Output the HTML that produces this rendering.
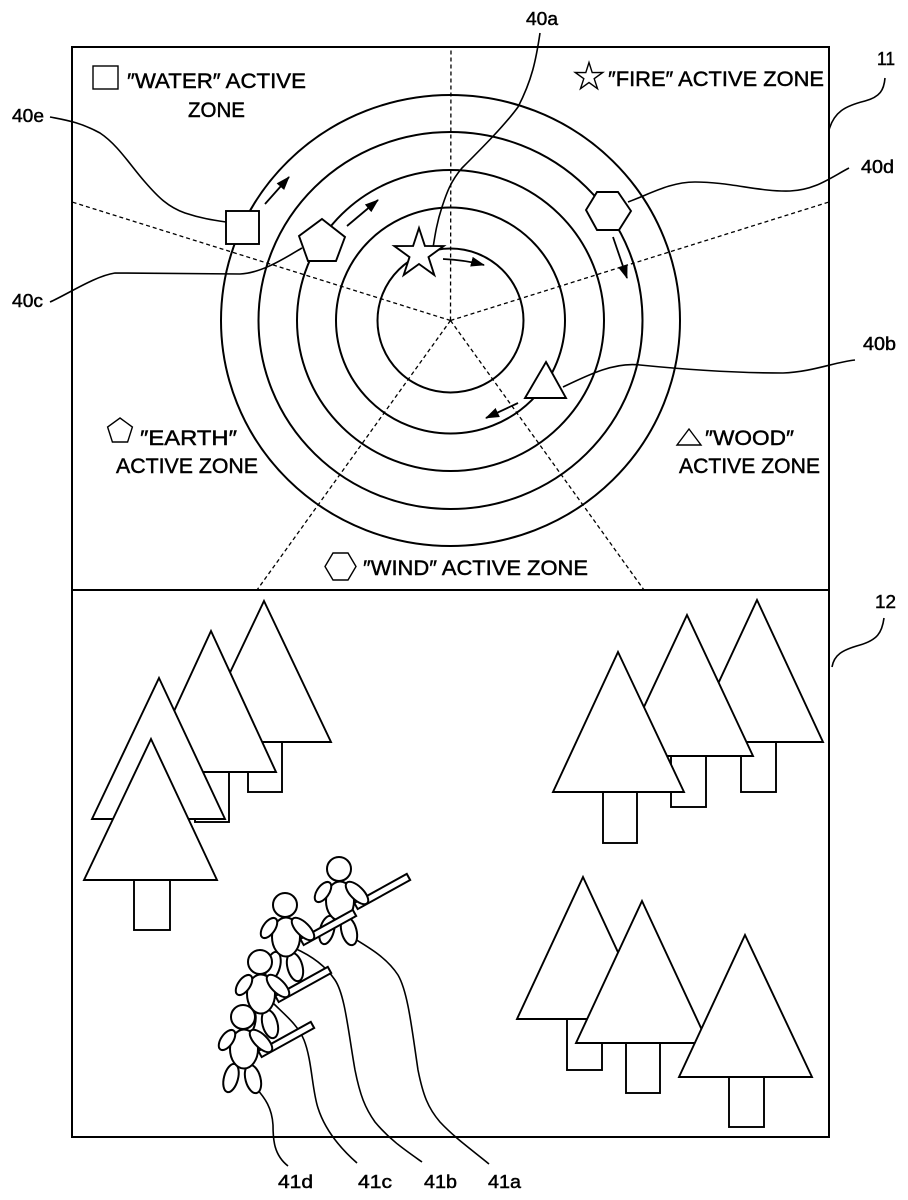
<!DOCTYPE html>
<html><head><meta charset="utf-8"><style>
html,body{margin:0;padding:0;background:#fff;}
svg{display:block;}
text{font-family:"Liberation Sans","DejaVu Sans",sans-serif;fill:#000;stroke:#000;stroke-width:0.45;}
</style></head><body>
<svg width="908" height="1200" viewBox="0 0 908 1200" xmlns="http://www.w3.org/2000/svg">
<defs>
<marker id="ah" viewBox="0 0 14 10" refX="13" refY="5" markerWidth="14" markerHeight="10" markerUnits="userSpaceOnUse" orient="auto">
<path d="M0,0 L14,5 L0,10 Z" fill="#000"/>
</marker>
<g id="p" fill="#fff" stroke="#000" stroke-width="2">
 <ellipse cx="-12" cy="61" rx="7" ry="14.5" transform="rotate(15 -12 61)"/>
 <ellipse cx="10" cy="62" rx="7.5" ry="14.5" transform="rotate(-15 10 62)"/>
 <ellipse cx="1" cy="32" rx="14" ry="19.5"/>
 <ellipse cx="-16" cy="23" rx="11.5" ry="6" transform="rotate(-55 -16 23)"/>
 <rect x="0" y="-3.5" width="60" height="7" transform="translate(17 37) rotate(-29)"/>
 <ellipse cx="18" cy="24" rx="14.5" ry="6.5" transform="rotate(45 18 24)"/>
 <circle cx="0" cy="0" r="12"/>
</g>
</defs>

<rect x="0" y="0" width="908" height="1200" fill="#fff"/>

<!-- boxes -->
<rect x="72" y="47" width="757" height="1090" fill="none" stroke="#000" stroke-width="2"/>
<line x1="72" y1="590" x2="829" y2="590" stroke="#000" stroke-width="2"/>

<!-- dashed zone lines -->
<g stroke="#000" stroke-width="1.3" stroke-dasharray="4,3" fill="none">
 <line x1="450.5" y1="320.5" x2="451" y2="47"/>
 <line x1="450.5" y1="320.5" x2="72" y2="202"/>
 <line x1="450.5" y1="320.5" x2="829" y2="202"/>
 <line x1="450.5" y1="320.5" x2="257" y2="590"/>
 <line x1="450.5" y1="320.5" x2="644" y2="590"/>
</g>

<!-- rings -->
<g stroke="#000" stroke-width="2" fill="none">
 <ellipse cx="450.5" cy="320.5" rx="73" ry="72"/>
 <ellipse cx="450.5" cy="320.5" rx="114.5" ry="113"/>
 <ellipse cx="450.5" cy="320.5" rx="153.5" ry="150.5"/>
 <ellipse cx="450.5" cy="320.5" rx="192" ry="188.5"/>
 <ellipse cx="450.5" cy="320.5" rx="229.5" ry="225.5"/>
</g>

<!-- leader lines upper -->
<g stroke="#000" stroke-width="1.6" fill="none">
 <path d="M540,33 C536,60 532,80 518,107 C505,125 480,150 462,168 C450,182 446,195 442,207 C437,222 435,235 433,248"/>
 <path d="M628,202 C650,194 670,182 695,182 C730,182 760,192 790,191 C815,190 830,178 849,168"/>
 <path d="M50,117 C65,120 80,122 100,133 C118,145 130,165 145,182 C158,197 168,207 185,213 C200,218 212,220 226,222"/>
 <path d="M50,302 C68,294 95,276 115,273 L240,274 C262,273 285,258 302,248"/>
 <path d="M563,387 C590,374 615,362 640,365 C690,370 740,373 783,373 C812,372 835,362 855,360"/>
 <path d="M885,78 C884,90 880,97 865,101 C845,106 834,112 829,130"/>
 <path d="M884,618 C882,633 877,640 860,645 C842,650 834,655 832,667"/>
</g>

<!-- pieces on rings -->
<g fill="#fff" stroke="#000" stroke-width="1.9">
 <rect x="226" y="211" width="33" height="33"/>
 <polygon points="322,219 345,237 336,261 308,261 299,236"/>
 <polygon points="419,228 424.9,245.9 443.7,246 428.5,257.1 434.3,275 419,264 403.7,275 409.5,257.1 394.3,246 413.1,245.9"/>
 <polygon points="597,192 618,192 631,211 619,230 597,230 586,210"/>
 <polygon points="546,362 566,398 525,398"/>
</g>

<!-- arrows -->
<g stroke="#000" stroke-width="1.8" fill="none" marker-end="url(#ah)">
 <line x1="265" y1="204" x2="289" y2="177"/>
 <line x1="347" y1="226" x2="378" y2="200"/>
 <path d="M443,259 Q465,260 484,265"/>
 <line x1="613" y1="237" x2="627" y2="278"/>
 <line x1="518" y1="403" x2="486" y2="418"/>
</g>

<!-- zone icons -->
<g fill="#fff" stroke="#000" stroke-width="1.4">
 <rect x="93" y="66" width="25" height="23"/>
 <polygon points="589,62.5 592.2,72.6 602.8,72.5 594.2,78.7 597.5,88.7 589,82.5 580.5,88.7 583.8,78.7 575.2,72.5 585.8,72.6"/>
 <polygon points="120,418 132.4,427 127.6,442 112.4,442 107.6,427"/>
 <polygon points="689,429 701,445 677,445"/>
 <polygon points="333,553 348,553 356,566.5 348,580 333,580 325,566.5"/>
</g>

<!-- zone labels -->
<g font-size="21">
 <text x="127" y="88" textLength="179" lengthAdjust="spacingAndGlyphs">″WATER″ ACTIVE</text>
 <text x="188" y="117" textLength="57" lengthAdjust="spacingAndGlyphs">ZONE</text>
 <text x="608" y="86" textLength="216" lengthAdjust="spacingAndGlyphs">″FIRE″ ACTIVE ZONE</text>
 <text x="140" y="445" textLength="97" lengthAdjust="spacingAndGlyphs">″EARTH″</text>
 <text x="116" y="473" textLength="142" lengthAdjust="spacingAndGlyphs">ACTIVE ZONE</text>
 <text x="705" y="445" textLength="89" lengthAdjust="spacingAndGlyphs">″WOOD″</text>
 <text x="679" y="473" textLength="141" lengthAdjust="spacingAndGlyphs">ACTIVE ZONE</text>
 <text x="363" y="575" textLength="225" lengthAdjust="spacingAndGlyphs">″WIND″ ACTIVE ZONE</text>
</g>

<!-- reference numerals -->
<g font-size="18">
 <text x="526" y="25" textLength="32" lengthAdjust="spacingAndGlyphs">40a</text>
 <text x="877" y="65" textLength="18" lengthAdjust="spacingAndGlyphs">11</text>
 <text x="861" y="173" textLength="33" lengthAdjust="spacingAndGlyphs">40d</text>
 <text x="12" y="122" textLength="32" lengthAdjust="spacingAndGlyphs">40e</text>
 <text x="12" y="307" textLength="31" lengthAdjust="spacingAndGlyphs">40c</text>
 <text x="863" y="350" textLength="33" lengthAdjust="spacingAndGlyphs">40b</text>
 <text x="875" y="608" textLength="21" lengthAdjust="spacingAndGlyphs">12</text>
 <text x="278" y="1188" textLength="35" lengthAdjust="spacingAndGlyphs">41d</text>
 <text x="358" y="1188" textLength="34" lengthAdjust="spacingAndGlyphs">41c</text>
 <text x="424" y="1188" textLength="33" lengthAdjust="spacingAndGlyphs">41b</text>
 <text x="488" y="1188" textLength="33" lengthAdjust="spacingAndGlyphs">41a</text>
</g>

<!-- trees -->
<g fill="#fff" stroke="#000" stroke-width="1.9">
 <!-- left group -->
 <rect x="248" y="742" width="34" height="50"/>
 <polygon points="264,601 331,742 197,742"/>
 <rect x="195" y="772" width="34" height="50"/>
 <polygon points="211,631 276,772 146,772"/>
 <rect x="142" y="819" width="34" height="50"/>
 <polygon points="159,678 225,819 92,819"/>
 <rect x="134" y="880" width="36" height="50"/>
 <polygon points="151,739 217,880 84,880"/>
 <!-- upper right group -->
 <rect x="741" y="742" width="35" height="50"/>
 <polygon points="757,600 823,742 691,742"/>
 <rect x="671" y="756" width="35" height="51"/>
 <polygon points="687,615 753,756 621,756"/>
 <rect x="603" y="792" width="34" height="51"/>
 <polygon points="618,652 684,792 553,792"/>
 <!-- lower right group -->
 <rect x="567" y="1019" width="35" height="51"/>
 <polygon points="583,877 649,1019 517,1019"/>
 <rect x="626" y="1043" width="34" height="50"/>
 <polygon points="642,901 708,1043 576,1043"/>
 <rect x="729" y="1077" width="35" height="50"/>
 <polygon points="745,935 812,1077 679,1077"/>
</g>

<!-- people leader lines -->
<g stroke="#000" stroke-width="1.6" fill="none">
 <path d="M350,936 C370,948 387,958 398,975 C408,992 412,1030 418,1070 C423,1095 428,1108 440,1122 C455,1138 472,1150 489,1164"/>
 <path d="M294,948 C310,955 325,965 335,980 C345,995 348,1030 355,1070 C360,1095 365,1108 375,1122 C390,1140 405,1150 422,1162"/>
 <path d="M272,1002 C285,1015 298,1025 304,1040 C312,1060 312,1090 318,1108 C325,1130 340,1148 357,1163"/>
 <path d="M256,1088 C265,1098 272,1108 273,1125 C273,1140 274,1155 288,1166"/>
</g>

<!-- people (back to front) -->
<use href="#p" x="339" y="869"/>
<use href="#p" x="285" y="905"/>
<use href="#p" x="260" y="962"/>
<use href="#p" x="243" y="1017"/>

</svg>
</body></html>
